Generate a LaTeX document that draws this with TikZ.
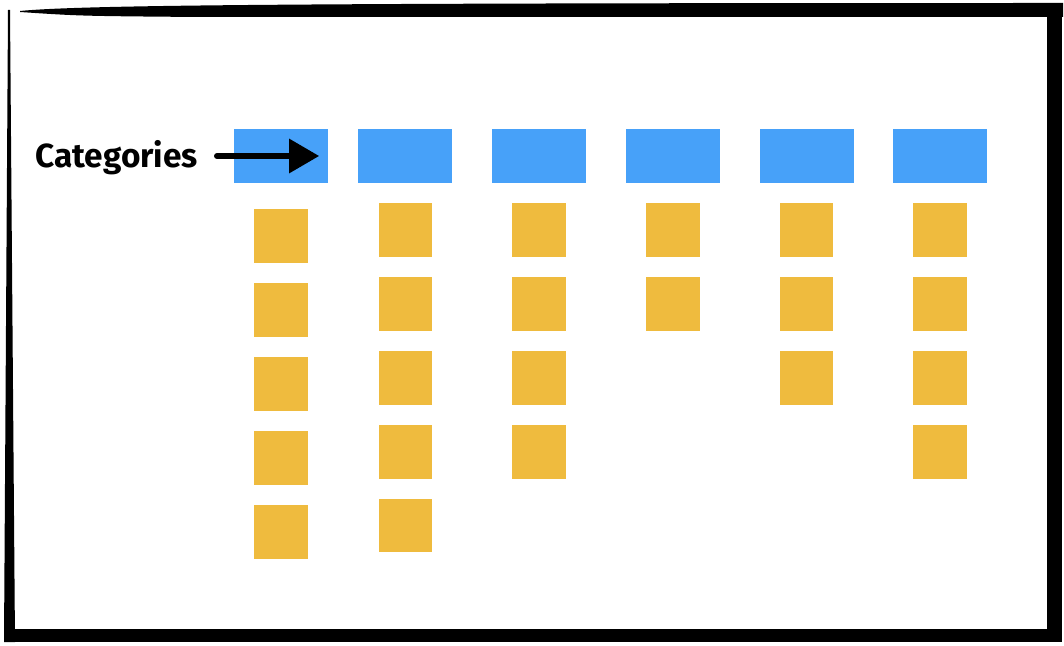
\documentclass[tikz,border=0pt]{standalone}
\usepackage{fontspec}
\newfontfamily\labelfont{Fira Sans}
\usetikzlibrary{positioning}
\usetikzlibrary{arrows.meta}
\definecolor{catblue}{RGB}{71,161,249}
\definecolor{itemyellow}{RGB}{239,187,62}
\tikzset{catbox/.style={rectangle,fill=catblue,inner
    sep=0pt,minimum width=94bp,minimum height=54bp},
    itembox/.style={rectangle,fill=itemyellow,inner
    sep=0pt,minimum size=53.5bp},
    catlabel/.style={inner sep=0pt,font=\labelfont\bfseries\fontsize{33.5}{38}\selectfont},
    catarrow/.style={-{Triangle[length=30bp,width=33bp]},line width=6bp,
    line cap=round}}

\begin{document}
\begin{tikzpicture}[x=1bp,y=-1bp]
        \useasboundingbox (0,0) rectangle (1064,646);
        % sketchy frame
        \fill (20,11) .. controls (80,5) and (300,3) .. (1063,3) -- (1063,17)
            -- (200,17) .. controls (80,16) .. (20,12) -- cycle;
        \fill (8,10) -- (10,10) -- (15,642) -- (4,642) -- cycle;
        \fill (1047,3) rectangle (1062,642);
        \fill (4,629) rectangle (1062,642);
        % categories
        \node[catbox] (c1) at (281,156) {};
        \node[catbox,right=30bp of c1] (c2) {};
        \node[catbox,right=39bp of c2] (c3) {};
        \node[catbox,right=40bp of c3] (c4) {};
        \node[catbox,right=39bp of c4] (c5) {};
        \node[catbox,right=39bp of c5] (c6) {};
        % items
        \node[itembox,below=26bp of c1] (c1a) {};
        \node[itembox,below=20bp of c1a] (c1b) {};
        \node[itembox,below=20bp of c1b] (c1c) {};
        \node[itembox,below=20bp of c1c] (c1d) {};
        \node[itembox,below=20bp of c1d] (c1e) {};
        \node[itembox,below=20bp of c2] (c2a) {};
        \node[itembox,below=20bp of c2a] (c2b) {};
        \node[itembox,below=20bp of c2b] (c2c) {};
        \node[itembox,below=20bp of c2c] (c2d) {};
        \node[itembox,below=20bp of c2d] (c2e) {};
        \node[itembox,below=20bp of c3] (c3a) {};
        \node[itembox,below=20bp of c3a] (c3b) {};
        \node[itembox,below=20bp of c3b] (c3c) {};
        \node[itembox,below=20bp of c3c] (c3d) {};
        \node[itembox,below=20bp of c4] (c4a) {};
        \node[itembox,below=20bp of c4a] (c4b) {};
        \node[itembox,below=20bp of c5] (c5a) {};
        \node[itembox,below=20bp of c5a] (c5b) {};
        \node[itembox,below=20bp of c5b] (c5c) {};
        \node[itembox,below=20bp of c6] (c6a) {};
        \node[itembox,below=20bp of c6a] (c6b) {};
        \node[itembox,below=20bp of c6b] (c6c) {};
        \node[itembox,below=20bp of c6c] (c6d) {};
        % label
        \coordinate (tail) at (217,156);
        \node[catlabel,anchor=base east] (label) at (198,168) {Categories};
        \draw[catarrow](tail)--([xshift=-9bp]c1.east);
    \end{tikzpicture}
\end{document}
